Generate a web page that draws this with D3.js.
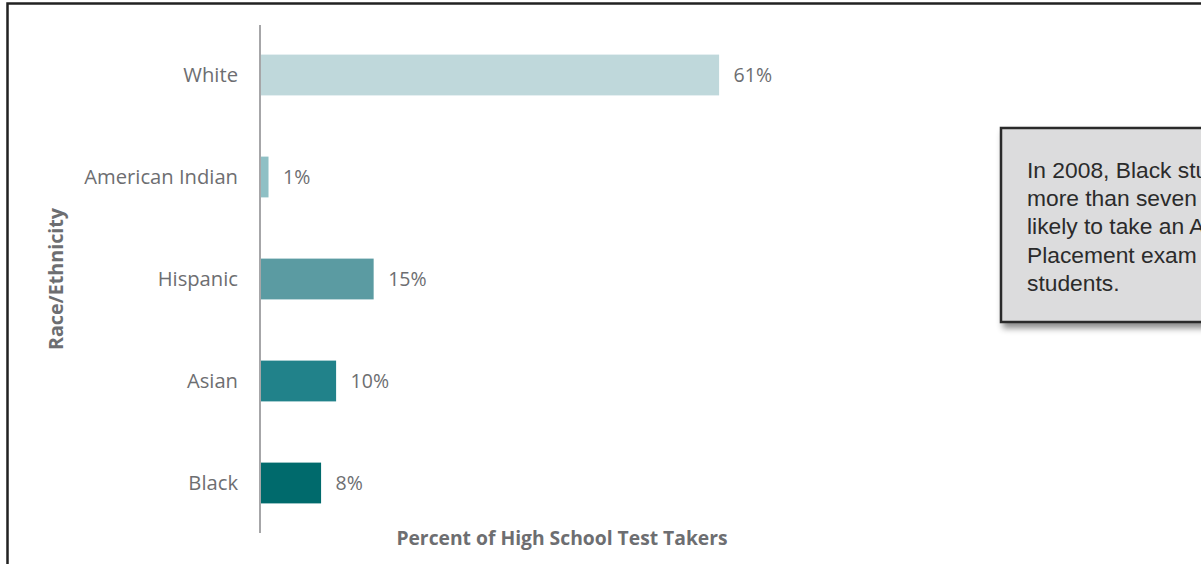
<!DOCTYPE html>
<html>
<head>
<meta charset="utf-8">
<script src="https://cdn.jsdelivr.net/npm/d3@7"></script>
<style>
  html, body { margin: 0; padding: 0; background: #fff; overflow: hidden; }
  svg { display: block; }
</style>
</head>
<body>
<svg id="chart" width="1201" height="564"></svg>
<script>
const categories = ["White", "American Indian", "Hispanic", "Asian", "Black"];
const values = [61, 1, 15, 10, 8];
const colors = ["#bfd8db", "#8fc0c5", "#5b9ba2", "#21828a", "#006a6c"];
const xTitle = "Percent of High School Test Takers";
const yTitle = "Race/Ethnicity";
const noteLines = ["In 2008, Black students were", "more than seven times less", "likely to take an Advanced", "Placement exam than White", "students."];

const svg = d3.select("#chart");
const defs = svg.append("defs");
const f = defs.append("filter").attr("id", "shadow").attr("x", "-10%").attr("y", "-10%").attr("width", "130%").attr("height", "140%");
f.append("feDropShadow").attr("dx", 3).attr("dy", 5).attr("stdDeviation", 3).attr("flood-color", "#000").attr("flood-opacity", 0.45);

// frame
svg.append("path").attr("d", "M7.5,564 L7.5,3.5 L1201,3.5").attr("fill", "none").attr("stroke", "#222").attr("stroke-width", 2.5);

const x = d3.scaleLinear().domain([0, 100]).range([261, 1012]);
const y = d3.scaleBand().domain(categories).range([24, 534]).paddingInner(0.6).paddingOuter(0.3);

const font = "'Open Sans', sans-serif";
const grey = "#6d6e71";

svg.selectAll("rect.bar").data(categories).join("rect")
  .attr("class", "bar")
  .attr("x", x(0))
  .attr("y", d => y(d))
  .attr("width", (d, i) => x(values[i]) - x(0))
  .attr("height", y.bandwidth())
  .attr("fill", (d, i) => colors[i]);

// axis line
svg.append("line").attr("x1", 260).attr("x2", 260).attr("y1", 25).attr("y2", 533)
  .attr("stroke", "#a6a6a8").attr("stroke-width", 2);

// category labels
svg.selectAll("text.cat").data(categories).join("text")
  .attr("class", "cat")
  .attr("x", 238)
  .attr("y", d => y(d) + y.bandwidth() / 2)
  .attr("dy", "0.35em")
  .attr("text-anchor", "end")
  .attr("font-family", font).attr("font-size", 20.2).attr("fill", grey)
  .text(d => d);

// value labels
svg.selectAll("text.val").data(categories).join("text")
  .attr("class", "val")
  .attr("x", (d, i) => x(values[i]) + 14.5)
  .attr("y", d => y(d) + y.bandwidth() / 2)
  .attr("dy", "0.35em")
  .attr("font-family", font).attr("font-size", 19.5).attr("fill", grey)
  .text((d, i) => values[i] + "%");

svg.append("text").attr("x", 562).attr("y", 538).attr("dy", "0.35em").attr("text-anchor", "middle")
  .attr("font-family", font).attr("font-size", 19.3).attr("font-weight", "bold").attr("fill", grey)
  .text(xTitle);

svg.append("text").attr("transform", "translate(56,279) rotate(-90)").attr("dy", "0.35em").attr("text-anchor", "middle")
  .attr("font-family", font).attr("font-size", 19.7).attr("font-weight", "bold").attr("fill", grey)
  .text(yTitle);

// annotation box
const g = svg.append("g");
g.append("rect").attr("x", 1001).attr("y", 128).attr("width", 320).attr("height", 194)
  .attr("fill", "#dcdcdd").attr("stroke", "#2a2a2a").attr("stroke-width", 2.5)
  .attr("filter", "url(#shadow)");
g.selectAll("text").data(noteLines).join("text")
  .attr("x", 1027)
  .attr("y", (d, i) => 178 + i * 28.2)
  .attr("font-family", "'Liberation Sans', Arial, sans-serif").attr("font-size", 22.8).attr("fill", "#2b2b2b")
  .text(d => d);
</script>
</body>
</html>
